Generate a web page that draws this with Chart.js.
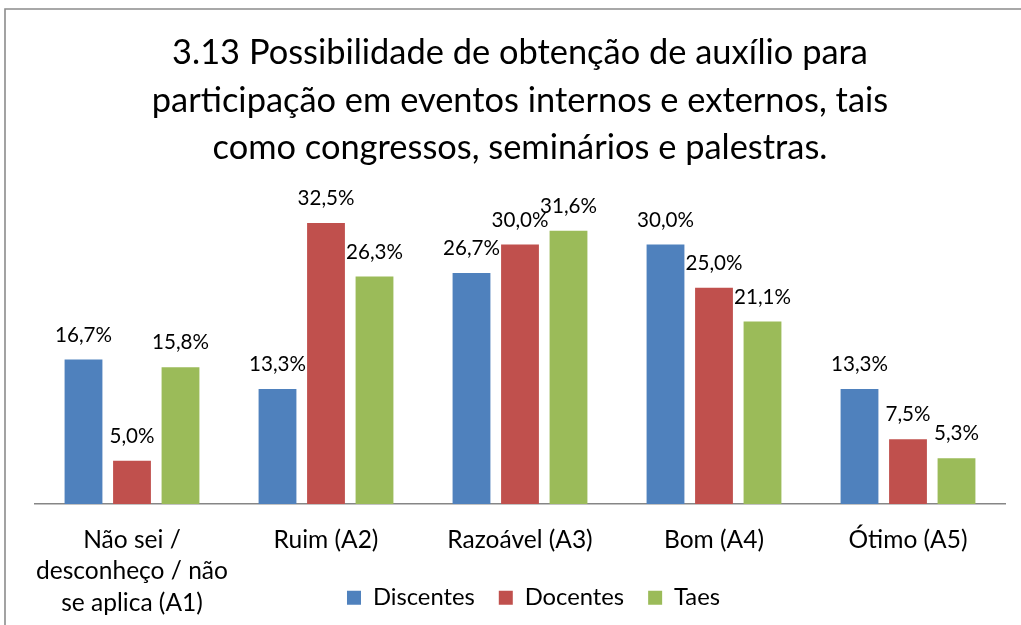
<!DOCTYPE html>
<html>
<head>
<meta charset="utf-8">
<script src="https://cdn.jsdelivr.net/npm/chart.js@4/dist/chart.umd.min.js"></script>
<style>
  html, body { margin: 0; padding: 0; background: #fff; }
  #wrap { position: relative; width: 1021px; height: 625px; }
</style>
</head>
<body>
<div id="wrap"><canvas id="c" width="1021" height="625"></canvas></div>
<script>
const titleLines = [
  '3.13 Possibilidade de obtenção de auxílio para',
  'participação em eventos internos e externos, tais',
  'como congressos, seminários e palestras.'
];
const categories = [
  ['Não sei /', 'desconheço / não', 'se aplica (A1)'],
  'Ruim (A2)',
  'Razoável (A3)',
  'Bom (A4)',
  'Ótimo (A5)'
];
const seriesNames = ['Discentes', 'Docentes', 'Taes'];
const discentes = [16.7, 13.3, 26.7, 30.0, 13.3];
const docentes  = [5.0, 32.5, 30.0, 25.0, 7.5];
const taes      = [15.8, 26.3, 31.6, 21.1, 5.3];
const seriesColors = ['#4F81BD', '#C0504D', '#9BBB59'];

const FAMILY = 'Lato';
const mctx = document.createElement('canvas').getContext('2d');
function fitSize(text, target) {
  mctx.font = '100px ' + FAMILY;
  return 100 * target / mctx.measureText(text).width;
}
const titleSize = fitSize(titleLines[0], 696);
const tickSize = fitSize('desconheço / não', 192);
const labelSize = fitSize('16,7%', 57);
const legendSize = fitSize('Discentes', 102);

const titleLH = 47.5;
const titlePadTop = 53 - titleLH / 2;
const areaTop = 201.3;
const titlePadBottom = areaTop - titlePadTop - 3 * titleLH;

const legendPad = 24;
const legendTextCenter = 597.7;
const layoutPadBottom = 625 - 10 - legendSize / 2 - legendTextCenter;
const legendHeight = legendSize + legendPad + 10;
const areaBottom = 504;
const xAxisHeight = 625 - layoutPadBottom - legendHeight - areaBottom;
const tickLH = 31.5;
const tickPadding = 540 - areaBottom - tickLH / 2;

const fmt = v => v.toFixed(1).replace('.', ',') + '%';

const frame = {
  id: 'frame',
  beforeDraw(chart) {
    const ctx = chart.ctx;
    ctx.save();
    ctx.fillStyle = '#fff';
    ctx.fillRect(0, 0, chart.width, chart.height);
    ctx.strokeStyle = '#8c8c8c';
    ctx.lineWidth = 1.6;
    ctx.beginPath();
    ctx.moveTo(5, chart.height + 5);
    ctx.lineTo(5, 9);
    ctx.lineTo(chart.width + 5, 9);
    ctx.stroke();
    ctx.restore();
  }
};

const valueLabels = {
  id: 'valueLabels',
  afterDatasetsDraw(chart) {
    const ctx = chart.ctx;
    ctx.save();
    ctx.font = labelSize + 'px ' + FAMILY;
    ctx.fillStyle = '#000';
    ctx.textAlign = 'center';
    ctx.textBaseline = 'alphabetic';
    chart.data.datasets.forEach((ds, di) => {
      const meta = chart.getDatasetMeta(di);
      meta.data.forEach((el, i) => {
        ctx.fillText(fmt(ds.data[i]), el.x, el.y - 18);
      });
    });
    ctx.restore();
  }
};

const layoutTweaks = {
  id: 'layoutTweaks',
  afterLayout(chart) {
    if (chart.legend) {
      chart.legend.left += 13.5;
      chart.legend.right += 13.5;
    }
    const xs = chart.scales.x;
    if (xs) {
      xs.bottom = chart.height;
      xs.height = xs.bottom - xs.top;
    }
  }
};

new Chart(document.getElementById('c'), {
  type: 'bar',
  data: {
    labels: categories,
    datasets: [
      { label: seriesNames[0], data: discentes, backgroundColor: seriesColors[0], borderWidth: 0 },
      { label: seriesNames[1], data: docentes, backgroundColor: seriesColors[1], borderWidth: 0 },
      { label: seriesNames[2], data: taes, backgroundColor: seriesColors[2], borderWidth: 0 }
    ]
  },
  options: {
    responsive: false,
    animation: false,
    devicePixelRatio: 1,
    layout: { padding: { left: 35, right: 16, top: 0, bottom: layoutPadBottom } },
    datasets: { bar: { categoryPercentage: 0.75, barPercentage: 0.78 } },
    plugins: {
      title: {
        display: true,
        text: titleLines,
        color: '#000',
        font: { family: FAMILY, size: titleSize, weight: 'normal', lineHeight: titleLH + 'px' },
        padding: { top: titlePadTop, bottom: titlePadBottom }
      },
      legend: {
        display: true,
        position: 'bottom',
        labels: {
          color: '#000',
          font: { family: FAMILY, size: legendSize },
          boxWidth: 14,
          boxHeight: 14,
          padding: legendPad
        }
      },
      tooltip: { enabled: false }
    },
    scales: {
      x: {
        grid: { display: false, drawTicks: false, tickLength: 0 },
        border: { display: true, color: '#868686', width: 1.5 },
        ticks: {
          color: '#000',
          padding: tickPadding,
          maxRotation: 0,
          autoSkip: false,
          font: { family: FAMILY, size: tickSize, lineHeight: tickLH + 'px' }
        },
        afterFit(scale) { scale.height = xAxisHeight; }
      },
      y: {
        display: false,
        min: 0,
        max: 35
      }
    }
  },
  plugins: [frame, valueLabels, layoutTweaks]
});
</script>
</body>
</html>
